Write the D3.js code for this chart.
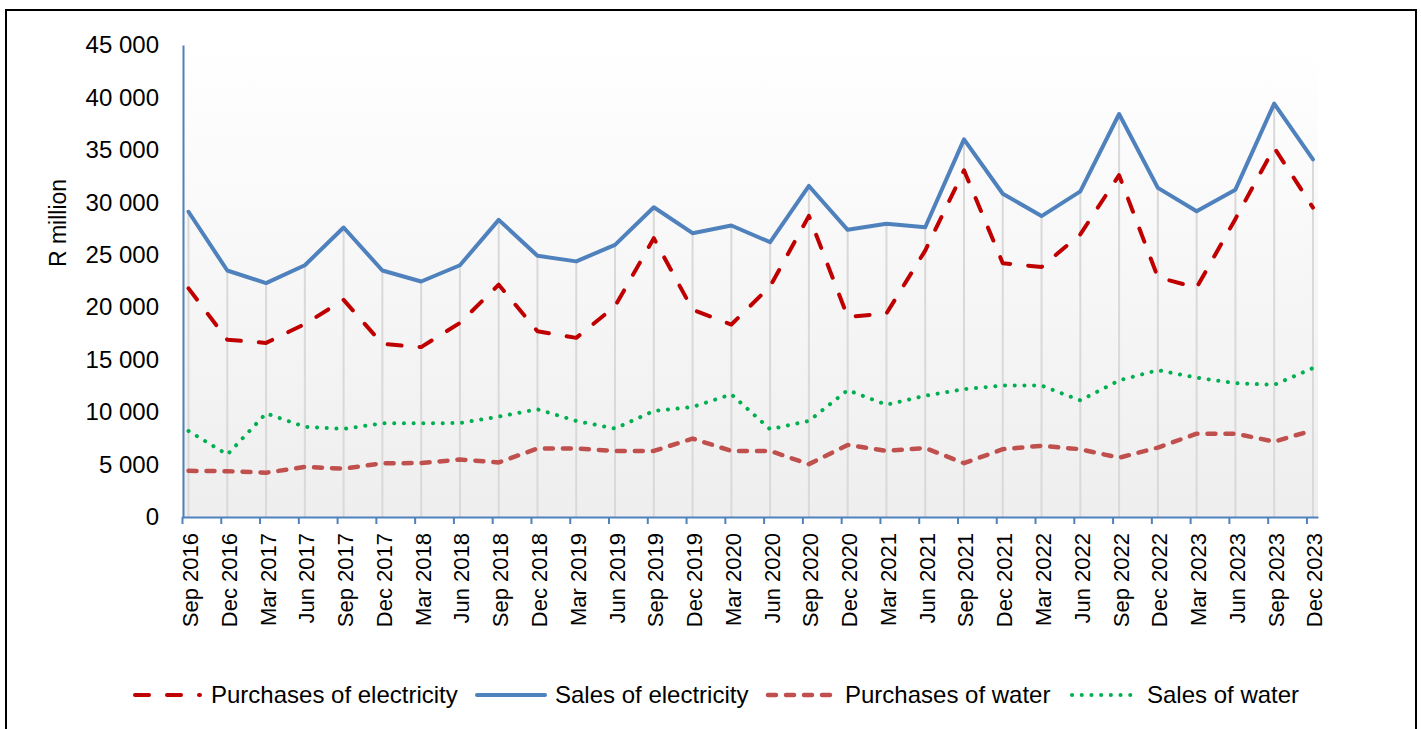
<!DOCTYPE html>
<html>
<head>
<meta charset="utf-8">
<script src="https://cdn.jsdelivr.net/npm/d3@7"></script>
<style>
  html, body { margin: 0; padding: 0; background: #ffffff; }
  svg { display: block; }
  text { font-family: "Liberation Sans", Arial, Helvetica, sans-serif; fill: #000; }
</style>
</head>
<body>
<svg id="chart" width="1421" height="729"></svg>
<script>
const categories = ["Sep 2016","Dec 2016","Mar 2017","Jun 2017","Sep 2017","Dec 2017","Mar 2018","Jun 2018",
  "Sep 2018","Dec 2018","Mar 2019","Jun 2019","Sep 2019","Dec 2019","Mar 2020","Jun 2020",
  "Sep 2020","Dec 2020","Mar 2021","Jun 2021","Sep 2021","Dec 2021","Mar 2022","Jun 2022",
  "Sep 2022","Dec 2022","Mar 2023","Jun 2023","Sep 2023","Dec 2023"];

const purchasesElectricity = [21800,16900,16600,18400,20700,16500,16200,18500,22150,17710,17080,20090,26580,19770,18350,21990,28710,19080,19400,25400,33050,24200,23840,26950,32590,22850,21870,28420,35210,29500];
const salesElectricity     = [29100,23500,22300,24000,27600,23500,22450,24000,28330,24900,24370,25950,29530,27060,27790,26200,31560,27380,27960,27630,36000,30820,28690,31050,38420,31380,29150,31210,39410,34100];
const purchasesWater       = [4400,4370,4220,4780,4600,5130,5140,5480,5200,6530,6530,6300,6300,7480,6300,6300,5040,6870,6300,6580,5130,6460,6790,6460,5650,6620,7940,7940,7190,8270];
const salesWater           = [8200,5950,9880,8600,8400,8930,8930,8960,9570,10270,9160,8430,10110,10490,11690,8370,9160,12100,10700,11560,12190,12530,12530,11120,13020,14000,13280,12760,12600,14200];

const yTicks = [0,5000,10000,15000,20000,25000,30000,35000,40000,45000];
const yTitle = "R million";

const seriesNames = ["Purchases of electricity","Sales of electricity","Purchases of water","Sales of water"];

const series = [
  { name: seriesNames[0], values: purchasesElectricity, color: "#c00000", width: 4, dash: "14,18", cap: "round" },
  { name: seriesNames[1], values: salesElectricity, color: "#4f81bd", width: 4, dash: null, cap: "round" },
  { name: seriesNames[2], values: purchasesWater, color: "#c0504d", width: 4.5, dash: "8,10", cap: "round" },
  { name: seriesNames[3], values: salesWater, color: "#00b050", width: 4, dash: "0.1,9.6", cap: "round" }
];

const svg = d3.select("#chart");
const W = 1421, H = 729;
const plot = { left: 182, right: 1318, top: 45, bottom: 517 };
const tickShift = 0.168; // date-axis ticks sit slightly before each point

svg.append("rect").attr("x",0).attr("y",0).attr("width",W).attr("height",H).attr("fill","#fff");
// outer frame
svg.append("rect").attr("x",6).attr("y",10).attr("width",1410).attr("height",740)
  .attr("fill","none").attr("stroke","#000").attr("stroke-width",2);

const x = d3.scaleLinear().domain([-tickShift, categories.length - 1 + 0.13]).range([plot.left, plot.right]);
const y = d3.scaleLinear().domain([0, 45000]).range([plot.bottom, plot.top]);

// plot area gradient
const defs = svg.append("defs");
const grad = defs.append("linearGradient").attr("id","pa").attr("x1",0).attr("y1",0).attr("x2",0).attr("y2",1);
grad.append("stop").attr("offset","0%").attr("stop-color","#ffffff");
grad.append("stop").attr("offset","100%").attr("stop-color","#eeeeee");
svg.append("rect").attr("x",plot.left).attr("y",plot.top)
  .attr("width",plot.right-plot.left).attr("height",plot.bottom-plot.top).attr("fill","url(#pa)");

// drop lines from highest point to axis
const idx = d3.range(categories.length);
svg.append("g").selectAll("line").data(idx).join("line")
  .attr("x1", i => x(i)).attr("x2", i => x(i))
  .attr("y1", i => y(d3.max(series, s => s.values[i])))
  .attr("y2", y(0))
  .attr("stroke","#d9d9d9").attr("stroke-width",2);

// series lines
const line = d3.line().x((d,i) => x(i)).y(d => y(d));
series.forEach(s => {
  svg.append("path").datum(s.values)
    .attr("d", line)
    .attr("fill","none")
    .attr("stroke", s.color)
    .attr("stroke-width", s.width)
    .attr("stroke-linecap", s.cap)
    .attr("stroke-linejoin","round")
    .attr("stroke-dasharray", s.dash);
});

// y axis
const fmt = d => d3.format(",")(d).replace(/,/g, " ");
const yAxis = svg.append("g").attr("transform",`translate(${plot.left+1},0)`)
  .call(d3.axisLeft(y).tickValues(yTicks).tickSize(0).tickSizeOuter(0).tickPadding(24).tickFormat(fmt));
yAxis.select(".domain").attr("stroke","#4f81bd").attr("stroke-width",2);
yAxis.selectAll("text").attr("font-size",24).attr("font-family","Liberation Sans, Arial, sans-serif").attr("fill","#000");

// x axis
const xAxis = svg.append("g").attr("transform",`translate(0,${plot.bottom})`)
  .call(d3.axisBottom(x).tickValues(idx.map(i => i - tickShift)).tickSize(7).tickSizeOuter(0).tickFormat(""));
xAxis.select(".domain").attr("stroke","#4f81bd").attr("stroke-width",2);
xAxis.selectAll(".tick line").attr("stroke","#4f81bd").attr("stroke-width",2);

// category labels (rotated)
svg.append("g").selectAll("text").data(categories).join("text")
  .attr("transform", (d,i) => `translate(${x(i)+9.5},${plot.bottom+16}) rotate(-90)`)
  .attr("text-anchor","end")
  .attr("font-size",22)
  .text(d => d);

// y title
svg.append("text")
  .attr("transform","translate(66,223) rotate(-90)")
  .attr("text-anchor","middle")
  .attr("font-size",23)
  .text(yTitle);

// legend
const legendY = 695;
const legendItems = [
  { s: series[0], x0: 135, x1: 200, tx: 211 },
  { s: series[1], x0: 477, x1: 545, tx: 555 },
  { s: series[2], x0: 768, x1: 834, tx: 845 },
  { s: series[3], x0: 1072, x1: 1133, tx: 1147 }
];
const lg = svg.append("g");
legendItems.forEach(it => {
  lg.append("line").attr("x1",it.x0).attr("x2",it.x1).attr("y1",legendY).attr("y2",legendY)
    .attr("stroke", it.s.color).attr("stroke-width", it.s.width)
    .attr("stroke-linecap", it.s.cap).attr("stroke-dasharray", it.s.dash);
  lg.append("text").attr("x", it.tx).attr("y", legendY).attr("dy","0.35em")
    .attr("font-size",24).text(it.s.name);
});
</script>
</body>
</html>
